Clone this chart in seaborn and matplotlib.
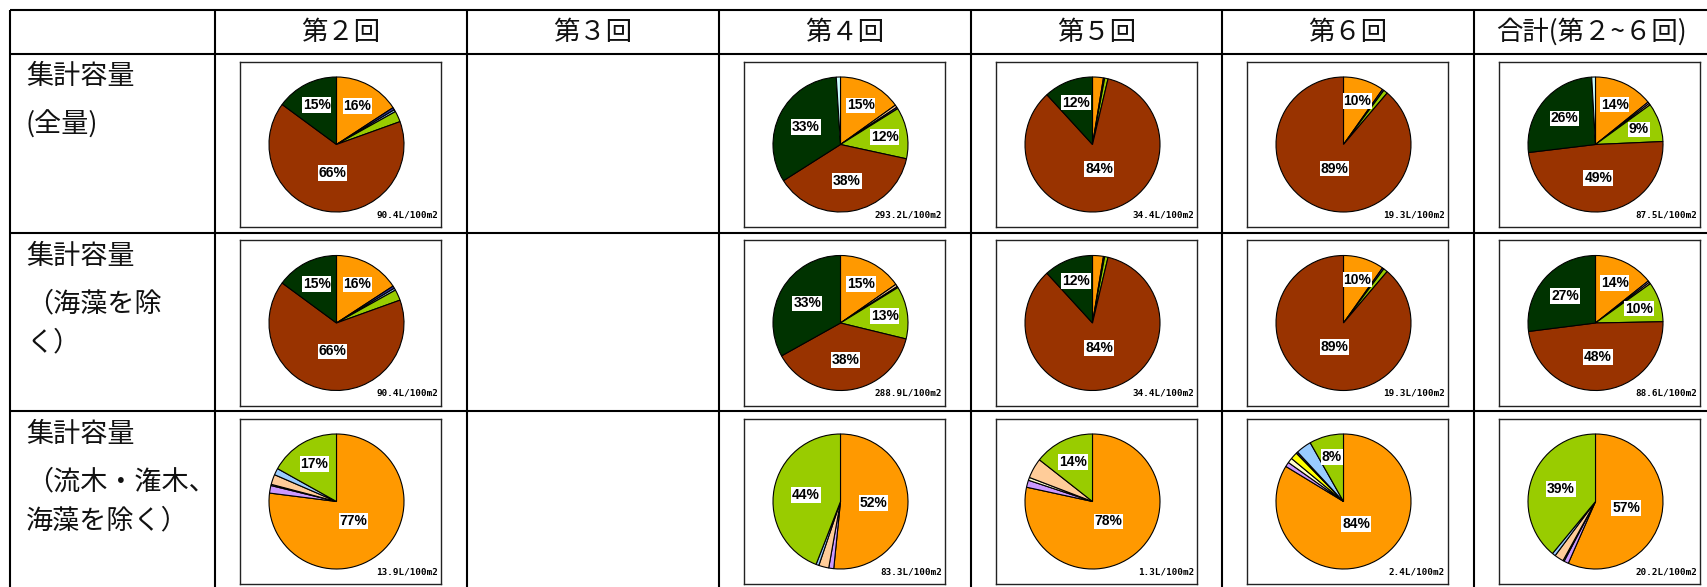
import numpy as np
import matplotlib
matplotlib.use("Agg")
import matplotlib.pyplot as plt
import seaborn as sns
from matplotlib.lines import Line2D

# ---------------- data ----------------
rounds = ["第２回", "第３回", "第４回", "第５回", "第６回", "合計(第２~６回)"]
row_lines = [
    ["集計容量", "(全量)"],
    ["集計容量", "（海藻を除", "く）"],
    ["集計容量", "（流木・潅木、", "海藻を除く）"],
]
# category order (clockwise from 12 o'clock)
categories = ["A", "B", "C", "D", "E", "F", "G", "H", "I", "J", "K"]
cat_colors = ["#FF9900", "#CC99FF", "#FFFFCC", "#FFCC99", "#FFFF00", "#333399",
              "#99CCFF", "#99CC00", "#993300", "#003300", "#CCFFFF"]

# row 1: total volume (全量)
all_r2 = [15.8, 0, 0, 0, 0, 0.6, 0.5, 2.6, 65.6, 14.9, 0]
all_r4 = [15.1, 0, 0, 0.6, 0, 0.4, 0, 12.3, 37.6, 33.0, 1.0]
all_r5 = [2.6, 0, 0, 0, 0, 0.3, 0, 0.8, 84.5, 11.8, 0]
all_r6 = [9.8, 0, 0, 0, 0, 0.4, 0, 1.0, 88.8, 0, 0]
all_tot = [14.2, 0.4, 0, 0.4, 0, 0, 0, 9.3, 48.8, 26.0, 0.9]
# row 2: excluding seaweed
nosea_r2 = [15.8, 0, 0, 0, 0, 0.6, 0.5, 2.6, 65.6, 14.9, 0]
nosea_r4 = [15.3, 0, 0, 0.6, 0, 0.3, 0, 12.6, 38.1, 33.1, 0]
nosea_r5 = [2.6, 0, 0, 0, 0, 0.3, 0, 0.8, 84.5, 11.8, 0]
nosea_r6 = [9.8, 0, 0, 0, 0, 0.4, 0, 1.0, 88.8, 0, 0]
nosea_tot = [14.3, 0.4, 0, 0.4, 0, 0, 0, 9.6, 48.3, 27.0, 0]
# row 3: excluding driftwood, brushwood, seaweed
noveg_r2 = [77.0, 1.8, 0.3, 2.4, 0, 0, 1.6, 16.9, 0, 0, 0]
noveg_r4 = [51.6, 1.2, 0, 2.4, 0, 0, 0.7, 44.1, 0, 0, 0]
noveg_r5 = [78.4, 1.7, 0.7, 4.8, 0, 0, 0, 14.4, 0, 0, 0]
noveg_r6 = [83.7, 1.1, 1.2, 0, 1.7, 0.4, 3.7, 8.2, 0, 0, 0]
noveg_tot = [56.6, 1.1, 0.3, 2.2, 0, 0, 0.8, 39.0, 0, 0, 0]

totals_all = [90.4, None, 293.2, 34.4, 19.3, 87.5]
totals_nosea = [90.4, None, 288.9, 34.4, 19.3, 88.6]
totals_noveg = [13.9, None, 83.3, 1.3, 2.4, 20.2]

grid = [
    [all_r2, None, all_r4, all_r5, all_r6, all_tot],
    [nosea_r2, None, nosea_r4, nosea_r5, nosea_r6, nosea_tot],
    [noveg_r2, None, noveg_r4, noveg_r5, noveg_r6, noveg_tot],
]
grid_totals = [totals_all, totals_nosea, totals_noveg]

# ---------------- style ----------------
sns.set_theme(style="white")
plt.rcParams["font.family"] = ["Noto Sans CJK JP", "DejaVu Sans"]
palette = sns.color_palette(cat_colors)

W, H = 1707, 587
fig = plt.figure(figsize=(W / 100, H / 100), dpi=100)
fig.patch.set_facecolor("white")


def fx(x):
    return x / W


def fy(y):
    return 1 - y / H


# table grid
col_edges = [10, 215, 467, 719, 971, 1222, 1474]
row_edges = [10, 54, 233, 411]
for x in col_edges:
    fig.add_artist(Line2D([fx(x), fx(x)], [fy(10), fy(H + 5)], transform=fig.transFigure,
                          color="black", lw=1.5, solid_capstyle="butt"))
for y in row_edges:
    fig.add_artist(Line2D([fx(10), fx(W + 5)], [fy(y), fy(y)], transform=fig.transFigure,
                          color="black", lw=1.5, solid_capstyle="butt"))

# header texts
for j, name in enumerate(rounds):
    left = col_edges[j + 1]
    if j < 5:
        cx = (left + col_edges[j + 2]) / 2
        fig.text(fx(cx), fy(32), name, ha="center", va="center", fontsize=19, color="#111111")
    else:
        fig.text(fx(left + 22), fy(32), name, ha="left", va="center", fontsize=19, color="#111111")

# row label texts
line_offsets = [23, 71, 110]
for i, lines in enumerate(row_lines):
    for k, t in enumerate(lines):
        fig.text(fx(26), fy(row_edges[i + 1] + line_offsets[k]), t, ha="left", va="center",
                 fontsize=19.5, color="#111111")

# pies
box_w, box_h = 201, 165
box_tops = [62, 240.5, 419]
R = 67.5
for i in range(3):
    for j in range(6):
        vals = grid[i][j]
        if vals is None:
            continue
        left = col_edges[j + 1] + 25
        top = box_tops[i]
        ax = fig.add_axes([fx(left), fy(top + box_h), box_w / W, box_h / H])
        v = np.array(vals, dtype=float)
        keep = v > 0
        vv = v[keep]
        cols = [palette[k] for k in range(len(v)) if keep[k]]
        cx, cy = 96.5, box_h / 2
        wedges, _ = ax.pie(vv, colors=cols, startangle=90, counterclock=False,
                           center=(cx, cy), radius=R, frame=True,
                           wedgeprops=dict(edgecolor="black", linewidth=0.8))
        ax.set_xlim(0, box_w)
        ax.set_ylim(0, box_h)
        ax.set_xticks([])
        ax.set_yticks([])
        for s in ax.spines.values():
            s.set_visible(True)
            s.set_color("#222222")
            s.set_linewidth(1.0)
        tot = vv.sum()
        for w, val in zip(wedges, vv):
            p = 100 * val / tot
            if p < 5:
                continue
            f = val / tot
            th = np.deg2rad((w.theta1 + w.theta2) / 2)
            d = max(0.38, 0.72 - 0.45 * f)
            ax.text(cx + d * R * np.cos(th), cy + d * R * np.sin(th), f"{p:.0f}%",
                    ha="center", va="center", fontsize=10, fontweight="bold",
                    family=["Liberation Sans Narrow", "Liberation Sans"], color="black",
                    bbox=dict(facecolor="white", edgecolor="none", pad=0.6))
        ax.text(box_w - 3, 12, f"{grid_totals[i][j]}L/100m2", ha="right", va="center",
                fontsize=6.7, fontweight="bold", family="DejaVu Sans Mono", color="black")

fig.savefig("out.png", dpi=100, facecolor="white")
